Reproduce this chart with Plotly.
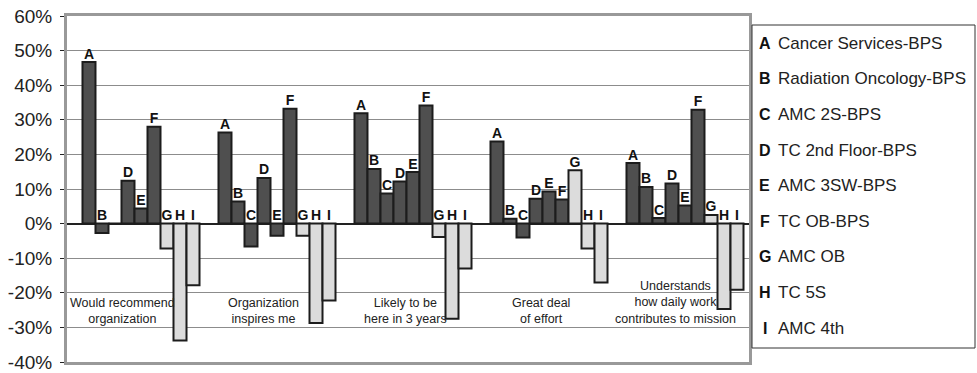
import plotly.graph_objects as go

categories = ["Would recommend<br>organization",
              "Organization<br>inspires me",
              "Likely to be<br>here in 3 years",
              "Great deal<br>of effort",
              "Understands<br>how daily work<br>contributes to mission"]

letters = ["A", "B", "C", "D", "E", "F", "G", "H", "I"]
series_names = ["Cancer Services-BPS", "Radiation Oncology-BPS", "AMC 2S-BPS",
                "TC 2nd Floor-BPS", "AMC 3SW-BPS", "TC OB-BPS", "AMC OB",
                "TC 5S", "AMC 4th"]

# values per series (A..I) across the 5 categories, in fractions
A = [0.467, 0.263, 0.319, 0.237, 0.175]
B = [-0.027, 0.064, 0.158, 0.014, 0.106]
C = [None, -0.066, 0.087, -0.040, 0.016]
D = [0.124, 0.132, 0.122, 0.072, 0.116]
E = [0.044, -0.035, 0.149, 0.093, 0.052]
F = [0.280, 0.332, 0.341, 0.070, 0.329]
G = [-0.072, -0.035, -0.039, 0.154, 0.025]
H = [-0.338, -0.287, -0.275, -0.072, -0.247]
I = [-0.178, -0.222, -0.130, -0.170, -0.191]
series_values = [A, B, C, D, E, F, G, H, I]

y_tick_vals = [-0.4, -0.3, -0.2, -0.1, 0.0, 0.1, 0.2, 0.3, 0.4, 0.5, 0.6]
y_tick_text = ["-40%", "-30%", "-20%", "-10%", "0%", "10%", "20%", "30%", "40%", "50%", "60%"]

# ---- styling / layout ----
W, H_ = 977, 373
PL, PR, PT, PB = 67, 749, 16, 362   # plot area in page pixels
ML, MR, MT, MB = PL, W - PR, PT, H_ - PB
PX_PER_CAT = 136.0
CAT0_PX = 141.0
bar_w = 0.0956
start = -4.5 * bar_w
dark_fill = "#4f4f4f"
light_fill = "#dcdcdc"
outline = "#1c1c1c"
base_font = "Liberation Sans, Arial, sans-serif"

cat_idx = list(range(len(categories)))

fig = go.Figure()
for j, (let, vals) in enumerate(zip(letters, series_values)):
    fill = light_fill if let in ("G", "H", "I") else dark_fill
    fig.add_trace(go.Bar(
        x=cat_idx, y=[v if v is not None else 0 for v in vals],
        offset=start + j * bar_w, width=bar_w,
        marker=dict(color=fill, line=dict(color=outline, width=2)),
        name=series_names[j], showlegend=False, hoverinfo="skip"))

# letter labels above bars (above zero line for negatives)
for j, (let, vals) in enumerate(zip(letters, series_values)):
    xs, ys, ts = [], [], []
    for k, v in enumerate(vals):
        if v is None:
            continue
        xs.append(k + start + (j + 0.5) * bar_w)
        ys.append(max(v, 0))
        ts.append(let)
    fig.add_trace(go.Scatter(
        x=xs, y=ys, text=ts, mode="text", textposition="top center",
        textfont=dict(family=base_font, size=14, color="#111", weight="bold"),
        showlegend=False, hoverinfo="skip", cliponaxis=False))

# category labels inside plot
label_px_offset = [-18.5, -14, -8, -8, -9.5]
for k, cat in enumerate(categories):
    fig.add_annotation(
        x=k + label_px_offset[k] / PX_PER_CAT, y=-0.302, xref="x", yref="y",
        text=cat, showarrow=False, xanchor="center", yanchor="bottom",
        font=dict(family=base_font, size=12.5, color="#222"),
        align="center")

# custom legend box (pixel positions converted to paper coords)
plot_w = PR - PL
plot_h = PB - PT
def px2paper_x(px):
    return (px - PL) / plot_w
def px2paper_y(py):
    return (PB - py) / plot_h

fig.add_shape(type="rect", xref="paper", yref="paper",
              x0=px2paper_x(752), x1=px2paper_x(975),
              y0=px2paper_y(348), y1=px2paper_y(25),
              line=dict(color="#333", width=1), fillcolor="white")
for j, (let, nm) in enumerate(zip(letters, series_names)):
    py = 43.3 + 35.6 * j
    fig.add_annotation(x=px2paper_x(764.5), y=px2paper_y(py), xref="paper", yref="paper",
                       text="<b>%s</b>" % let, showarrow=False,
                       xanchor="center", yanchor="middle",
                       font=dict(family=base_font, size=16, color="#111"))
    fig.add_annotation(x=px2paper_x(775.5), y=px2paper_y(py), xref="paper", yref="paper",
                       text=nm, showarrow=False,
                       xanchor="left", yanchor="middle",
                       font=dict(family=base_font, size=17, color="#222"))

x_lo = (PL - CAT0_PX) / PX_PER_CAT
x_hi = x_lo + plot_w / PX_PER_CAT

fig.update_layout(
    width=W, height=H_,
    margin=dict(l=ML, r=MR, t=MT, b=MB, pad=0, autoexpand=False),
    paper_bgcolor="white", plot_bgcolor="white",
    barmode="overlay",
    showlegend=False,
    xaxis=dict(range=[x_lo, x_hi], showticklabels=False, ticks="",
               showgrid=False, zeroline=False, automargin=False,
               showline=True, linecolor="#999", linewidth=3, mirror=True),
    yaxis=dict(range=[-0.4, 0.6], tickvals=y_tick_vals, ticktext=y_tick_text,
               ticks="outside", ticklen=4, tickcolor="#222", tickwidth=1,
               ticklabelstandoff=4, automargin=False, ticklabeloverflow="allow",
               tickfont=dict(family=base_font, size=19, color="#222"),
               showgrid=True, gridcolor="#8c8c8c", gridwidth=1,
               zeroline=True, zerolinecolor="#222", zerolinewidth=1.5,
               showline=True, linecolor="#999", linewidth=3, mirror=True),
)

fig.write_html("out.html", config={"displayModeBar": False},
               post_script="document.body.style.margin='0';")
